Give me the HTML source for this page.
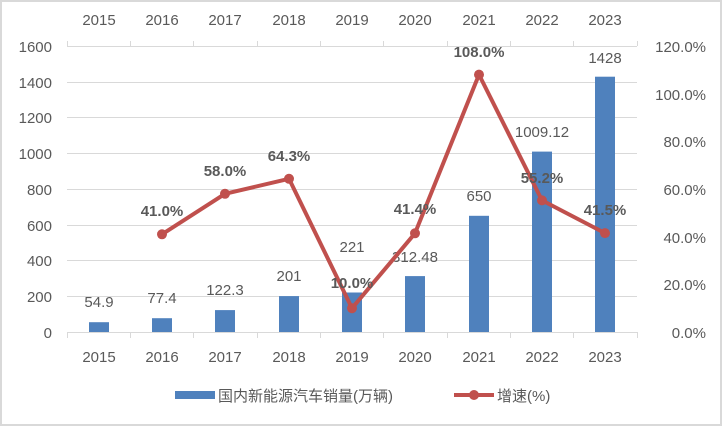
<!DOCTYPE html>
<html><head><meta charset="utf-8"><style>
html,body{margin:0;padding:0;background:#fff}
svg{display:block}
text{font-family:"Liberation Sans Narrow","Liberation Sans","Noto Sans CJK SC",sans-serif;fill:#595959}
</style></head><body>
<svg width="722" height="426" viewBox="0 0 722 426" xmlns="http://www.w3.org/2000/svg">
<rect x="1" y="1" width="720" height="424" fill="#fff" stroke="#d9d9d9" stroke-width="2"/>
<g stroke="#d9d9d9" stroke-width="1">
<line x1="67" x2="637" y1="46.5" y2="46.5"/>
<line x1="67" x2="637" y1="82.5" y2="82.5"/>
<line x1="67" x2="637" y1="117.5" y2="117.5"/>
<line x1="67" x2="637" y1="153.5" y2="153.5"/>
<line x1="67" x2="637" y1="189.5" y2="189.5"/>
<line x1="67" x2="637" y1="225.5" y2="225.5"/>
<line x1="67" x2="637" y1="260.5" y2="260.5"/>
<line x1="67" x2="637" y1="296.5" y2="296.5"/>
<line x1="67" x2="637" y1="332.5" y2="332.5"/>
</g>
<g stroke="#d9d9d9" stroke-width="1">
<line x1="67.5" x2="67.5" y1="332" y2="338"/><line x1="130.5" x2="130.5" y1="332" y2="338"/><line x1="193.5" x2="193.5" y1="332" y2="338"/><line x1="257.5" x2="257.5" y1="332" y2="338"/><line x1="320.5" x2="320.5" y1="332" y2="338"/><line x1="383.5" x2="383.5" y1="332" y2="338"/><line x1="447.5" x2="447.5" y1="332" y2="338"/><line x1="510.5" x2="510.5" y1="332" y2="338"/><line x1="573.5" x2="573.5" y1="332" y2="338"/><line x1="637.5" x2="637.5" y1="332" y2="338"/>
<line x1="67.5" x2="67.5" y1="41" y2="46"/><line x1="130.5" x2="130.5" y1="41" y2="46"/><line x1="193.5" x2="193.5" y1="41" y2="46"/><line x1="257.5" x2="257.5" y1="41" y2="46"/><line x1="320.5" x2="320.5" y1="41" y2="46"/><line x1="383.5" x2="383.5" y1="41" y2="46"/><line x1="447.5" x2="447.5" y1="41" y2="46"/><line x1="510.5" x2="510.5" y1="41" y2="46"/><line x1="573.5" x2="573.5" y1="41" y2="46"/><line x1="637.5" x2="637.5" y1="41" y2="46"/>
</g>
<g fill="#4f81bd">
<rect x="89" y="322.2" width="20" height="9.8"/>
<rect x="152" y="318.2" width="20" height="13.8"/>
<rect x="215" y="310.1" width="20" height="21.9"/>
<rect x="279" y="296.1" width="20" height="35.9"/>
<rect x="342" y="292.5" width="20" height="39.5"/>
<rect x="405" y="276.1" width="20" height="55.9"/>
<rect x="469" y="215.8" width="20" height="116.2"/>
<rect x="532" y="151.6" width="20" height="180.4"/>
<rect x="595" y="76.7" width="20" height="255.3"/>
</g>
<g font-size="15" text-anchor="middle">
<text x="99" y="25">2015</text><text x="162" y="25">2016</text><text x="225" y="25">2017</text><text x="289" y="25">2018</text><text x="352" y="25">2019</text><text x="415" y="25">2020</text><text x="479" y="25">2021</text><text x="542" y="25">2022</text><text x="605" y="25">2023</text>
<text x="99" y="362">2015</text><text x="162" y="362">2016</text><text x="225" y="362">2017</text><text x="289" y="362">2018</text><text x="352" y="362">2019</text><text x="415" y="362">2020</text><text x="479" y="362">2021</text><text x="542" y="362">2022</text><text x="605" y="362">2023</text>
</g>
<g font-size="15" text-anchor="end">
<text x="52" y="52">1600</text><text x="52" y="88">1400</text><text x="52" y="123">1200</text><text x="52" y="159">1000</text><text x="52" y="195">800</text><text x="52" y="231">600</text><text x="52" y="266">400</text><text x="52" y="302">200</text><text x="52" y="338">0</text>
<text x="706" y="52">120.0%</text><text x="706" y="100">100.0%</text><text x="706" y="147">80.0%</text><text x="706" y="195">60.0%</text><text x="706" y="243">40.0%</text><text x="706" y="290">20.0%</text><text x="706" y="338">0.0%</text>
</g>
<g font-size="15" text-anchor="middle">
<text x="99" y="307">54.9</text><text x="162" y="303">77.4</text><text x="225" y="295">122.3</text><text x="289" y="281">201</text><text x="352" y="252">221</text><text x="415" y="262">312.48</text><text x="479" y="201">650</text><text x="542" y="137">1009.12</text><text x="605" y="63">1428</text>
</g>
<polyline points="162,234.3 225,193.8 289,178.8 352,308.2 415,233.3 479,74.6 542,200.4 605,233.1" fill="none" stroke="#c0504d" stroke-width="4" stroke-linejoin="round"/>
<g fill="#c0504d">
<circle cx="162" cy="234.3" r="5"/><circle cx="225" cy="193.8" r="5"/><circle cx="289" cy="178.8" r="5"/><circle cx="352" cy="308.2" r="5"/><circle cx="415" cy="233.3" r="5"/><circle cx="479" cy="74.6" r="5"/><circle cx="542" cy="200.4" r="5"/><circle cx="605" cy="233.1" r="5"/>
</g>
<g font-size="15" font-weight="bold" text-anchor="middle" style="fill:#404040">
<text x="162" y="216">41.0%</text><text x="225" y="176">58.0%</text><text x="289" y="161">64.3%</text><text x="352" y="288">10.0%</text><text x="415" y="214">41.4%</text><text x="479" y="57">108.0%</text><text x="542" y="183">55.2%</text><text x="605" y="215">41.5%</text>
</g>
<rect x="175" y="391" width="40" height="8" fill="#4f81bd"/>
<text x="218" y="401" font-size="15">国内新能源汽车销量(万辆)</text>
<line x1="454" x2="494" y1="395" y2="395" stroke="#c0504d" stroke-width="4"/>
<circle cx="474" cy="395" r="5" fill="#c0504d"/>
<text x="497" y="401" font-size="15">增速(%)</text>
</svg>
</body></html>
